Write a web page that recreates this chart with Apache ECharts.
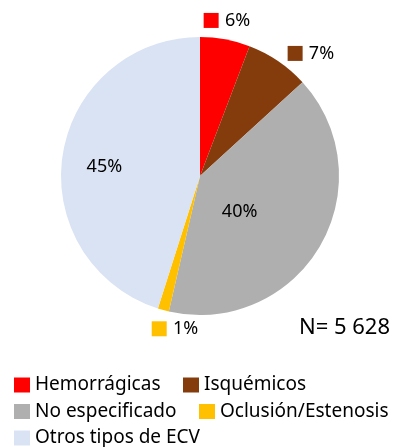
<!DOCTYPE html>
<html>
<head>
<meta charset="utf-8">
<script src="https://cdn.jsdelivr.net/npm/echarts@6/dist/echarts.min.js"></script>
<style>
  html, body { margin: 0; padding: 0; background: #fff; }
  #chart { width: 400px; height: 447px; }
</style>
</head>
<body>
<div id="chart"></div>
<script>
  // categorias y porcentajes
  var categories = ['Hemorrágicas', 'Isquémicos', 'No especificado', 'Oclusión/Estenosis', 'Otros tipos de ECV'];
  var values = [5.8, 7.4, 40.4, 1.3, 45.1];
  var colors = ['#ff0000', '#843c0c', '#afafaf', '#ffc000', '#dae3f3'];
  var total = 'N= 5 628';

  // que etiquetas van fuera (con cuadrito) y cuales dentro
  var outside = [true, true, false, true, false];
  // ajuste fino de etiquetas
  var labelShift = [[-28, -11], [0, -1], [-23, -1], [42, 11], [-24, 2]];

  var chart = echarts.init(document.getElementById('chart'));

  var pieData = categories.map(function (name, i) {
    var item = { name: name, value: values[i], itemStyle: { color: colors[i] } };
    if (outside[i]) {
      item.label = {
        position: 'outside',
        formatter: '{c' + i + '|}  {t|' + Math.round(values[i]) + '%}'
      };
    } else {
      item.label = {
        position: 'inside',
        formatter: '{t|' + Math.round(values[i]) + '%}'
      };
    }
    return item;
  });

  var rich = { t: { fontSize: 18, color: '#000', fontFamily: 'Noto Sans' } };
  colors.forEach(function (c, i) {
    rich['c' + i] = { width: 15, height: 15, backgroundColor: c };
  });

  chart.setOption({
    animation: false,
    textStyle: { fontFamily: 'Noto Sans' },
    title: {
      text: total,
      right: 10,
      top: 317,
      padding: 0,
      textStyle: { fontSize: 22, fontWeight: 'normal', color: '#000' }
    },
    legend: {
      data: categories,
      left: 14,
      top: 375,
      width: 395,
      orient: 'horizontal',
      icon: 'rect',
      itemWidth: 16,
      itemHeight: 15,
      itemGap: 6.5,
      padding: 0,
      textStyle: { fontSize: 19, lineHeight: 20, color: '#000', padding: [0, 16, 0, 0] }
    },
    series: [{
      type: 'pie',
      center: [200, 176],
      radius: 139,
      startAngle: 90,
      clockwise: true,
      silent: true,
      data: pieData,
      label: { show: true, rich: rich, distanceToLabelLine: 5 },
      labelLine: { show: false, length: 8, length2: 0 },
      labelLayout: function (p) {
        var s = labelShift[p.dataIndex];
        return { dx: s[0], dy: s[1] };
      }
    }]
  });
</script>
</body>
</html>
